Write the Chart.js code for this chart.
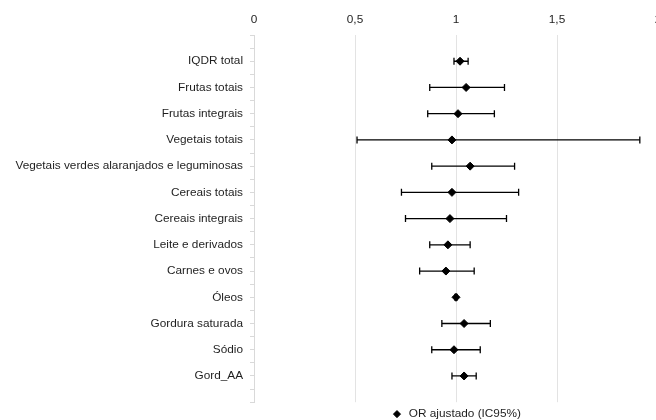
<!DOCTYPE html>
<html>
<head>
<meta charset="utf-8">
<script src="https://cdn.jsdelivr.net/npm/chart.js@4"></script>
<style>
  html, body { margin: 0; padding: 0; background: #fff; overflow: hidden; }
</style>
</head>
<body>
<canvas id="myChart" width="672" height="430"></canvas>
<script>
// Forest plot: adjusted odds ratios with 95% CI
const categories = [
  'IQDR total',
  'Frutas totais',
  'Frutas integrais',
  'Vegetais totais',
  'Vegetais verdes alaranjados e leguminosas',
  'Cereais totais',
  'Cereais integrais',
  'Leite e derivados',
  'Carnes e ovos',
  'Óleos',
  'Gordura saturada',
  'Sódio',
  'Gord_AA'
]
const orValues = [1.02, 1.05, 1.01, 0.98, 1.07, 0.98, 0.97, 0.96, 0.95, 1.00, 1.04, 0.99, 1.04]
const ciLower = [0.99, 0.87, 0.86, 0.51, 0.88, 0.73, 0.75, 0.87, 0.82, 0.995, 0.93, 0.88, 0.98]
const ciUpper = [1.06, 1.24, 1.19, 1.91, 1.29, 1.31, 1.25, 1.07, 1.09, 1.005, 1.17, 1.12, 1.10]
const legendLabel = 'OR ajustado (IC95%)'

const textColor = '#1e1e1e'
const fontFamily = "'Liberation Sans', Arial, sans-serif"

const ctx = document.getElementById('myChart')

// first dataset = diamonds (drawn on top), then one line per CI
const datasets = [{
  label: legendLabel,
  data: orValues.map((v, i) => ({ x: v, y: i + 1 })),
  backgroundColor: '#000',
  borderColor: '#000',
  pointStyle: 'rectRot',
  pointRadius: 4,
  showLine: false
}]

categories.forEach((c, i) => {
  datasets.push({
    label: c,
    data: [{ x: ciLower[i], y: i + 1 }, { x: ciUpper[i], y: i + 1 }],
    borderColor: '#000',
    borderWidth: 1.3,
    showLine: true,
    pointStyle: 'line',
    pointRotation: 90,
    pointRadius: 3.5,
    pointBorderWidth: 1.3,
    pointBorderColor: '#000'
  })
})

new Chart(ctx, {
  type: 'scatter',
  data: { datasets: datasets },
  options: {
    responsive: false,
    animation: false,
    layout: { padding: { left: 0, right: 14, top: 0, bottom: 0 } },
    scales: {
      x: {
        type: 'linear',
        position: 'top',
        min: 0,
        max: 2,
        ticks: {
          stepSize: 0.5,
          color: textColor,
          font: { family: fontFamily, size: 11.8 },
          padding: 8,
          maxRotation: 0,
          callback: (v) => String(v).replace('.', ',')
        },
        grid: { color: '#e3e3e3', drawTicks: false },
        border: { display: false },
        afterFit: (scale) => { scale.height = 35 }
      },
      y: {
        type: 'linear',
        reverse: true,
        min: 0,
        max: categories.length + 1,
        ticks: {
          stepSize: 0.5,
          autoSkip: false,
          color: textColor,
          font: { family: fontFamily, size: 11.8 },
          padding: 7,
          callback: (v) => (Number.isInteger(v) && v >= 1 && v <= categories.length) ? categories[v - 1] : ''
        },
        grid: { drawOnChartArea: false, drawTicks: true, tickLength: 4, color: '#d9d9d9' },
        border: { color: '#d9d9d9' },
        afterFit: (scale) => { scale.width = 254 }
      }
    },
    plugins: {
      tooltip: { enabled: false },
      legend: {
        position: 'bottom',
        fullSize: false,
        labels: {
          filter: (item) => item.datasetIndex === 0,
          usePointStyle: true,
          boxHeight: 5,
          padding: 6,
          color: textColor,
          font: { family: fontFamily, size: 11.8 }
        }
      }
    }
  }
})
</script>
</body>
</html>
